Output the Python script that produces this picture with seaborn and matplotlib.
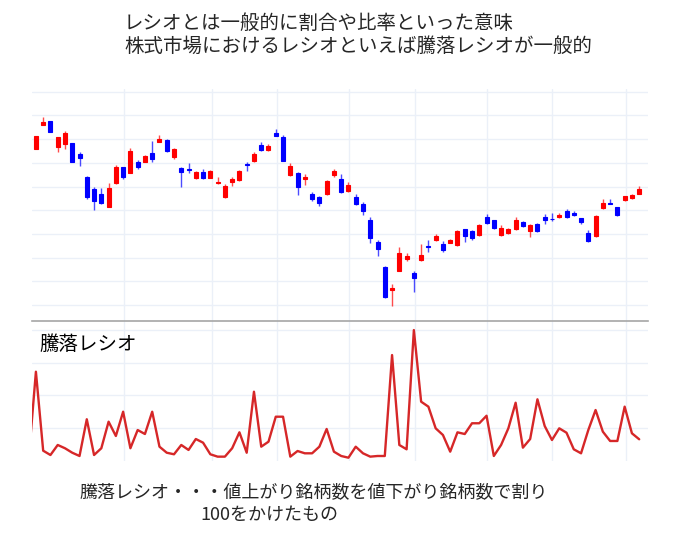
import matplotlib
matplotlib.use("Agg")
import matplotlib.pyplot as plt
import numpy as np
import pandas as pd
import seaborn as sns

# daily OHLC (84 sessions)
opens = [23292, 23804, 23889, 23340, 23391, 23412, 23186, 22694, 22448, 22342,
         22061, 22581, 22905, 22779, 23011, 23024, 23201, 23446, 23482, 23129,
         22897, 22863, 22686, 22813, 22686, 22581, 22285, 22595, 22644, 22981,
         23032, 23376, 23271, 23629, 23538, 22743, 22779, 22652, 22336, 22285,
         22342, 22743, 22659, 22399, 22285, 22125, 21794, 21329, 20808, 20323,
         20724, 20971, 20669, 20950, 21245, 21365, 21281, 21308, 21272, 21597,
         21568, 21483, 21863, 21787, 21477, 21519, 21604, 21758, 21568, 21715,
         21857, 21821, 21850, 21983, 21948, 21829, 21513, 21456, 22040, 22159,
         22061, 22216, 22258, 22348]
closes = [23566, 23855, 23644, 23538, 23636, 23011, 23095, 22272, 22194, 22159,
          22462, 22918, 22694, 23256, 22905, 23144, 23087, 23496, 23249, 23285,
          22813, 22844, 22813, 22686, 22834, 22602, 22517, 22652, 22827, 22960,
          23186, 23264, 23361, 23572, 23032, 22927, 22496, 22694, 22230, 22159,
          22616, 22827, 22378, 22532, 22131, 21990, 21407, 21175, 20162, 20359,
          21097, 21034, 20570, 21055, 21217, 21450, 21161, 21372, 21568, 21456,
          21407, 21682, 21730, 21631, 21618, 21604, 21794, 21667, 21688, 21561,
          21787, 21808, 21899, 21857, 21893, 21751, 21350, 21884, 22159, 22137,
          21899, 22300, 22315, 22448]
highs = [23566, 23960, 23889, 23538, 23678, 23412, 23228, 22722, 22483, 22475,
         22581, 22954, 22905, 23306, 23053, 23165, 23454, 23587, 23503, 23313,
         22911, 23003, 22838, 22870, 22849, 22694, 22547, 22694, 22849, 23024,
         23222, 23446, 23391, 23707, 23587, 22990, 22813, 22758, 22384, 22300,
         22644, 22863, 22764, 22589, 22342, 22167, 21850, 21372, 20823, 20443,
         21217, 21104, 20717, 21287, 21372, 21504, 21350, 21393, 21583, 21614,
         21583, 21709, 21914, 21804, 21688, 21635, 21857, 21772, 21699, 21730,
         21914, 21941, 21935, 22019, 21983, 21846, 21576, 21899, 22230, 22243,
         22078, 22310, 22348, 22511]
lows = [23292, 23804, 23644, 23235, 23292, 23011, 22939, 22230, 22004, 22125,
        22061, 22547, 22652, 22779, 22880, 23007, 23011, 23429, 23228, 23074,
        22500, 22779, 22652, 22669, 22673, 22547, 22268, 22511, 22627, 22827,
        23017, 23249, 23249, 23560, 23032, 22722, 22321, 22532, 22194, 22089,
        22321, 22694, 22363, 22384, 22110, 21899, 21302, 21034, 20158, 19979,
        20717, 20935, 20268, 20928, 21125, 21350, 21125, 21298, 21245, 21336,
        21372, 21466, 21709, 21597, 21456, 21498, 21593, 21656, 21428, 21540,
        21703, 21779, 21836, 21846, 21878, 21703, 21329, 21445, 22026, 22121,
        21878, 22205, 22247, 22342]

# daily advance/decline ratio (first value is the session before the window)
ratio = [20, 1361, 157, 91, 244, 194, 126, 76, 636, 91,
         194, 599, 381, 751, 194, 472, 411, 751, 218, 126,
         102, 244, 168, 335, 279, 102, 66, 66, 194, 437,
         126, 1056, 218, 294, 675, 675, 66, 152, 117, 117,
         218, 488, 142, 76, 50, 218, 117, 66, 76, 76,
         1615, 244, 178, 1996, 904, 828, 498, 396, 142, 437,
         411, 575, 575, 690, 76, 244, 498, 888, 203, 335,
         940, 533, 320, 498, 431, 178, 117, 472, 777, 447,
         305, 305, 828, 422, 331]

month_starts = [12.1, 24.2, 33.2, 43.1, 52.2, 62.1, 71.0, 81.2]

sns.set_style("white")
plt.rcParams['font.family'] = ['Noto Sans CJK JP', 'DejaVu Sans']

grid_c = '#ebf0f8'
up_c, down_c = '#ff0000', '#0000ff'

fig = plt.figure(figsize=(6.78, 5.48), dpi=100)
ax1 = fig.add_axes([0.0476, 0.4142, 0.9077, 0.4234])
ax2 = fig.add_axes([0.0476, 0.1588, 0.9077, 0.2554])

df = pd.DataFrame({'o': opens, 'h': highs, 'l': lows, 'c': closes})
df['day'] = np.arange(len(df))
df['up'] = df['c'] >= df['o']
colors = np.where(df['up'], up_c, down_c)

# wicks then bodies
ax1.vlines(df['day'], df['l'], df['h'], colors=colors, linewidth=1.0, alpha=0.7, zorder=2)
ax1.bar(df['day'], (df['c'] - df['o']).abs(), bottom=df[['o', 'c']].min(axis=1),
        width=0.55, color=colors, edgecolor=colors, linewidth=0.8, zorder=3)

ax1.set_xlim(-0.5, 84.17)
ax1.set_ylim(19662, 24558)
ax1.set_yticks(np.arange(20000, 24501, 500))
ax1.set_xticks(month_starts)
ax1.tick_params(left=False, bottom=False, labelleft=False, labelbottom=False)
ax1.grid(True, color=grid_c, linewidth=1.0, zorder=0)
ax1.set_axisbelow(True)
for s in ax1.spines.values():
    s.set_visible(False)

rdf = pd.DataFrame({'day': np.arange(-1, len(ratio) - 1), 'ratio': ratio})
sns.lineplot(data=rdf, x='day', y='ratio', ax=ax2, color='#d62728', linewidth=1.7)
ax2.set_xlim(-0.5, 84.17)
ax2.set_ylim(0, 2134)
ax2.set_yticks([500, 1000, 1500, 2000])
ax2.set_xticks(month_starts)
ax2.tick_params(left=False, bottom=False, labelleft=False, labelbottom=False)
ax2.set_xlabel('')
ax2.set_ylabel('')
ax2.grid(True, color=grid_c, linewidth=1.0, zorder=0)
ax2.set_axisbelow(True)
for s in ax2.spines.values():
    s.set_visible(False)
ax2.spines['top'].set_visible(True)
ax2.spines['top'].set_color('#a6a6a6')
ax2.spines['top'].set_linewidth(1.2)

ax2.text(0.012, 0.83, '騰落レシオ', transform=ax2.transAxes, fontsize=14,
         va='center', ha='left', color='black')

fig.text(124 / 678, 1 - 23 / 548, 'レシオとは一般的に割合や比率といった意味',
         fontsize=14, ha='left', va='center')
fig.text(124 / 678, 1 - 46 / 548, '株式市場におけるレシオといえば騰落レシオが一般的',
         fontsize=14, ha='left', va='center')
fig.text(80 / 678, 1 - 492 / 548, '騰落レシオ・・・値上がり銘柄数を値下がり銘柄数で割り',
         fontsize=13, ha='left', va='center')
fig.text(200 / 678, 1 - 515 / 548, '100をかけたもの',
         fontsize=13, ha='left', va='center')

fig.savefig('out.png', dpi=100)
